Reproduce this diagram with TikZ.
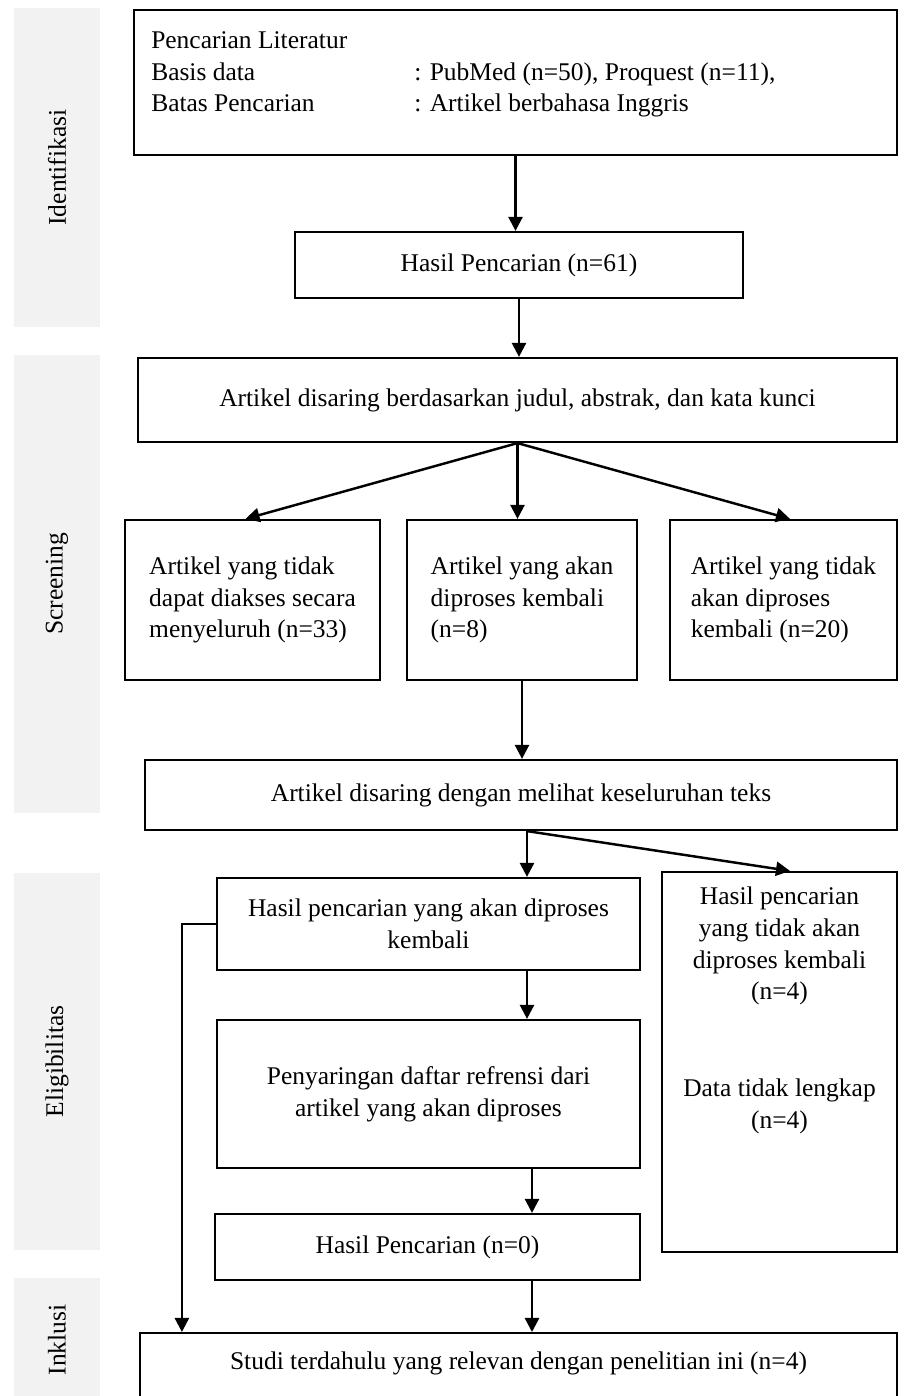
\documentclass[tikz,border=0pt]{standalone}
\usepackage{fontspec}
\setmainfont{Liberation Serif}
\usetikzlibrary{arrows.meta, positioning, calc}

\begin{document}
\begin{tikzpicture}[
    every node/.style={font=\fontsize{14.5}{18}\selectfont},
    box/.style={draw, line width=1.25pt, align=center, inner sep=0pt},
    band/.style={fill=black!5, rotate=90, minimum height=1.72cm, inner sep=0pt, font=\fontsize{14.5}{18}\selectfont},
    arr/.style={-{Triangle[length=8pt, width=8pt]}, line width=1.4pt, color=#1},
]
    \clip (0,0) rectangle (18.12,-27.92);

    % Stage bands
    \node[band, minimum width=6.38cm] (idf) at (1.14,-3.35) {Identifikasi};
    \node[band, minimum width=9.16cm] (scr) at (1.14,-11.68) {Screening};
    \node[band, minimum width=7.54cm] (elg) at (1.14,-21.23) {Eligibilitas};
    \node[band, minimum width=2.48cm] (ink) at (1.14,-26.80) {Inklusi};

    % Identifikasi
    \node[box, minimum width=15.26cm, minimum height=2.9cm,
          label={[anchor=north west, inner sep=0pt, xshift=0.36cm, yshift=-0.34cm, align=left]north west:{%
            \begin{tabular}{@{}p{5.26cm}@{}l@{}}
            Pencarian Literatur & \\
            Basis data & : PubMed (n=50), Proquest (n=11), \\
            Batas Pencarian & : Artikel berbahasa Inggris
            \end{tabular}}}] (lit) at (10.31,-1.65) {};
    \node[box, minimum width=8.96cm, minimum height=1.32cm] (hasil61) at (10.38,-5.30) {Hasil Pencarian (n=61)};

    % Screening
    \node[box, minimum width=15.18cm, minimum height=1.68cm] (judul) at (10.35,-8.00) {Artikel disaring berdasarkan judul, abstrak, dan kata kunci};
    \node[box, align=left, minimum width=5.1cm, minimum height=3.2cm] (akses) at (5.05,-12.00) {Artikel yang tidak\\dapat diakses secara\\menyeluruh (n=33)};
    \node[box, align=left, minimum width=4.6cm, minimum height=3.2cm] (proses8) at (10.44,-12.00) {Artikel yang akan\\diproses kembali\\(n=8)};
    \node[box, align=left, minimum width=4.54cm, minimum height=3.2cm] (tidak20) at (15.67,-12.00) {Artikel yang tidak\\akan diproses\\kembali (n=20)};
    \node[box, minimum width=15.04cm, minimum height=1.4cm] (teks) at (10.42,-15.90) {Artikel disaring dengan melihat keseluruhan teks};

    % Eligibilitas
    \node[box, minimum width=8.46cm, minimum height=1.84cm] (akan) at (8.57,-18.48) {Hasil pencarian yang akan diproses\\kembali};
    \node[box, minimum width=4.7cm, minimum height=7.6cm,
          label={[anchor=north, inner sep=0pt, yshift=-0.32cm, align=center]north:{%
            Hasil pencarian\\yang tidak akan\\diproses kembali\\(n=4)\\[1.3cm]Data tidak lengkap\\(n=4)}}] (tidak4) at (15.59,-21.24) {};
    \node[box, minimum width=8.46cm, minimum height=2.96cm] (saring) at (8.57,-21.88) {Penyaringan daftar refrensi dari\\artikel yang akan diproses};
    \node[box, minimum width=8.5cm, minimum height=1.32cm] (hasil0) at (8.55,-24.94) {Hasil Pencarian (n=0)};

    % Inklusi
    \node[box, minimum width=15.14cm, text height=0.72cm, text depth=0.9cm, anchor=north] (studi) at (10.37,-26.64) {Studi terdahulu yang relevan dengan penelitian ini (n=4)};

    % Connectors
    \coordinate (split) at ([xshift=0.12cm]teks.south);
    \draw[arr=black] (lit.south) -- (lit.south |- hasil61.north);
    \draw[arr=black] (hasil61.south) -- (hasil61.south |- judul.north);
    \draw[arr=black] (judul.south) -- ([xshift=-0.14cm]akses.north);
    \draw[arr=black] (judul.south) -- (judul.south |- proses8.north);
    \draw[arr=black] (judul.south) -- ([xshift=0.13cm]tidak20.north);
    \draw[arr=black] (proses8.south) -- (proses8.south |- teks.north);
    \draw[arr=black] (split) -- (split |- akan.north);
    \draw[arr=black] (split) -- ([xshift=0.21cm]tidak4.north);
    \draw[arr=black] (akan.south -| split) -- (split |- saring.north);
    \draw[arr=black] ([xshift=0.1cm]saring.south -| split) -- ([xshift=0.1cm]split |- hasil0.north);
    \draw[arr=black] ([xshift=0.1cm]hasil0.south -| split) -- ([xshift=0.1cm]split |- studi.north);
    \draw[arr=black] (akan.west) -| ([xshift=0.86cm]studi.north west);
\end{tikzpicture}
\end{document}
